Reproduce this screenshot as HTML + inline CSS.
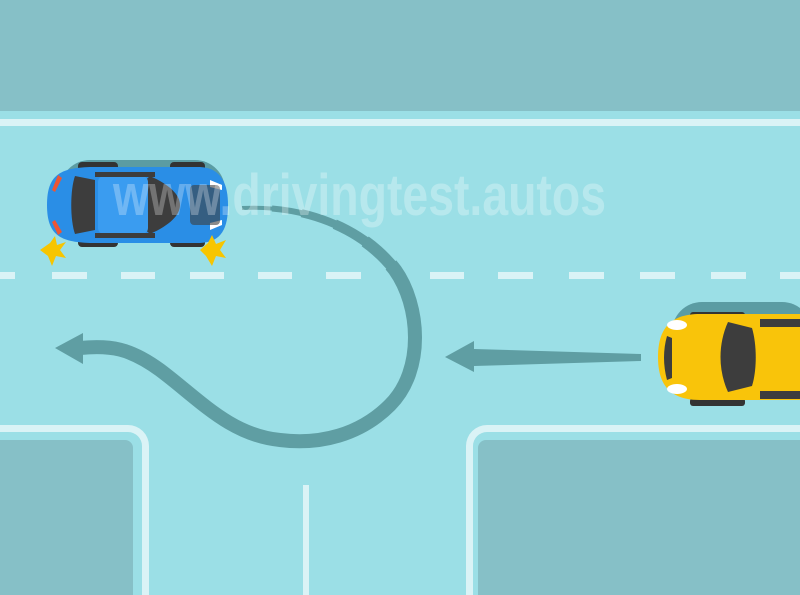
<!DOCTYPE html>
<html><head><meta charset="utf-8"><style>html,body{margin:0;padding:0;background:#9bdfe6}svg{display:block}</style></head>
<body>
<svg width="800" height="595" viewBox="0 0 800 595" xmlns="http://www.w3.org/2000/svg">
<defs>
<path id="cv" d="M242,208 C300,205 360,225 395,270 C420,305 425,370 390,405 C360,435 320,445 280,440 C230,435 200,400 160,370 C130,348 110,345 80,348"/>
</defs>
<rect width="800" height="595" fill="#9bdfe6"/>
<rect x="0" y="0" width="800" height="111" fill="#86c0c7"/>
<rect x="0" y="119" width="800" height="7" fill="#daf3f6"/>
<g fill="#daf3f6">
<rect x="0" y="272" width="15" height="7"/><rect x="52" y="272" width="35" height="7"/><rect x="121" y="272" width="34" height="7"/><rect x="190" y="272" width="34" height="7"/><rect x="258" y="272" width="34" height="7"/><rect x="326" y="272" width="35" height="7"/><rect x="430" y="272" width="34" height="7"/><rect x="498" y="272" width="35" height="7"/><rect x="569" y="272" width="35" height="7"/><rect x="640" y="272" width="35" height="7"/><rect x="711" y="272" width="35" height="7"/><rect x="780" y="272" width="20" height="7"/>
</g>
<path d="M0,425 H128 A21,21 0 0 1 149,446 V595 H142 V446 A14,14 0 0 0 128,432 H0 Z" fill="#daf3f6"/>
<path d="M0,440 H125 A8,8 0 0 1 133,448 V595 H0 Z" fill="#86c0c7"/>
<path d="M800,425 H487 A21,21 0 0 0 466,446 V595 H473 V446 A14,14 0 0 1 487,432 H800 Z" fill="#daf3f6"/>
<path d="M800,440 H486 A8,8 0 0 0 478,448 V595 H800 Z" fill="#86c0c7"/>
<rect x="303" y="485" width="6" height="110" fill="#daf3f6"/>
<g fill="none" stroke="#5f9ea3" stroke-linecap="butt">
<use href="#cv" stroke-width="4"/>
<use href="#cv" stroke-width="6" stroke-dasharray="3000" stroke-dashoffset="-30"/>
<use href="#cv" stroke-width="8" stroke-dasharray="3000" stroke-dashoffset="-60"/>
<use href="#cv" stroke-width="10" stroke-dasharray="3000" stroke-dashoffset="-95"/>
<use href="#cv" stroke-width="12" stroke-dasharray="3000" stroke-dashoffset="-130"/>
<use href="#cv" stroke-width="14" stroke-dasharray="3000" stroke-dashoffset="-165"/>
</g>
<polygon points="55,348 83,333 83,364" fill="#5f9ea3"/>
<polygon points="641,354 641,361 474,366 474,372 445,357 474,341 474,349" fill="#5f9ea3"/>
<g>
<rect x="60" y="160" width="165" height="80" rx="30" fill="#5b9ca3"/>
<rect x="78" y="162" width="40" height="10" rx="4" fill="#333"/><rect x="170" y="162" width="35" height="10" rx="4" fill="#333"/>
<rect x="78" y="238" width="40" height="9" rx="4" fill="#333"/><rect x="170" y="238" width="35" height="9" rx="4" fill="#333"/>
<path d="M47,205 C47,175 60,168 90,167 H200 C222,168 228,185 228,205 C228,228 222,242 200,243 H90 C60,242 47,235 47,205 Z" fill="#2a8ee6"/>
<path d="M75,176 L95,180 V230 L75,234 C70,220 70,190 75,176 Z" fill="#3d3d3d"/>
<path d="M150,176 C170,185 180,195 180,205 C180,215 170,225 150,234 L140,225 C148,215 148,195 140,185 Z" fill="#3d3d3d"/>
<rect x="98" y="176" width="50" height="58" rx="6" fill="#3a9cf0"/>
<rect x="95" y="172" width="60" height="5" fill="#3d3d3d"/><rect x="95" y="233" width="60" height="5" fill="#3d3d3d"/>
<path d="M210,180 L222,185 L222,190 L210,187 Z" fill="#fff"/><path d="M210,230 L222,225 L222,220 L210,223 Z" fill="#fff"/>
<path d="M58,175 L52,190 L55,192 L62,178 Z" fill="#e53"/><path d="M58,235 L52,222 L55,220 L62,232 Z" fill="#e53"/>
<rect x="190" y="185" width="30" height="40" rx="4" fill="#3d3d3d" opacity="0.6"/>
</g>
<g fill="#f7c500">
<polygon points="40,250 50,243 55,236 57,245 66,242 60,250 66,258 56,256 52,266 48,256"/>
<polygon points="200,250 208,243 212,235 216,244 226,240 220,250 226,258 216,256 212,266 206,256"/>
</g>
<g>
<rect x="672" y="302" width="140" height="90" rx="30" fill="#5b9ca3"/>
<rect x="690" y="312" width="55" height="8" rx="3" fill="#333"/><rect x="690" y="398" width="55" height="8" rx="3" fill="#333"/>
<path d="M700,314 H800 V400 H700 C670,400 658,385 658,357 C658,329 670,314 700,314 Z" fill="#f9c40a"/>
<rect x="760" y="319" width="40" height="8" fill="#3d3d3d"/><rect x="760" y="391" width="40" height="8" fill="#3d3d3d"/>
<path d="M728,322 L752,328 C757,345 757,370 752,386 L728,392 C718,370 718,344 728,322 Z" fill="#3d3d3d"/>
<path d="M667,336 L672,338 V378 L667,380 C663,365 663,350 667,336 Z" fill="#3d3d3d"/>
<ellipse cx="677" cy="325" rx="10" ry="5" fill="#fff"/><ellipse cx="677" cy="389" rx="10" ry="5" fill="#fff"/>
</g>
<text x="113" y="215" font-family="Liberation Sans, sans-serif" font-weight="bold" font-size="58" textLength="493" lengthAdjust="spacingAndGlyphs" fill="#ffffff" fill-opacity="0.28">www.drivingtest.autos</text>
</svg>
</body></html>
